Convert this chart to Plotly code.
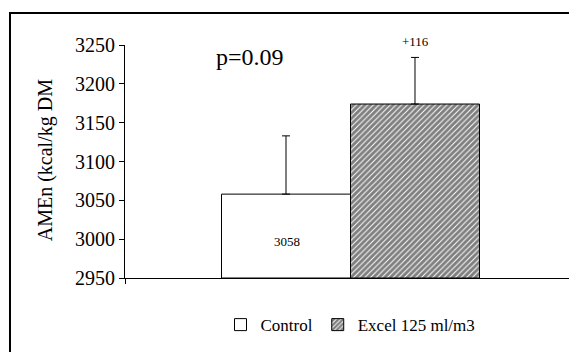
import plotly.graph_objects as go

series = ["Control", "Excel 125 ml/m3"]
values = [3058, 3174]
errors = [75, 60]
bar_labels = ["3058", "+116"]
y_ticks = [2950, 3000, 3050, 3100, 3150, 3200, 3250]
p_text = "p=0.09"
y_title = "AMEn (kcal/kg DM"

FONT = "Times New Roman"

fig = go.Figure()
fig.add_trace(go.Bar(
    name=series[0], x=[1], y=[values[0] - y_ticks[0]], base=y_ticks[0],
    marker=dict(color="white", line=dict(color="black", width=1)),
    error_y=dict(type="data", symmetric=False, array=[errors[0]], arrayminus=[0],
                 color="black", thickness=1, width=4),
))
fig.add_trace(go.Bar(
    name=series[1], x=[1], y=[values[1] - y_ticks[0]], base=y_ticks[0],
    marker=dict(color="white", line=dict(color="black", width=1),
                pattern=dict(shape="/", fgcolor="black", bgcolor="white", size=4, solidity=0.75)),
    error_y=dict(type="data", symmetric=False, array=[errors[1]], arrayminus=[0],
                 color="black", thickness=1, width=4),
))

annotations = [
    dict(x=1, y=2997, xref="x", yref="y", xshift=-64, text=bar_labels[0], showarrow=False,
         font=dict(family=FONT, size=13, color="black")),
    dict(x=1, y=values[1] + errors[1], xref="x", yref="y", xshift=65, yshift=16, text=bar_labels[1],
         showarrow=False, font=dict(family=FONT, size=13, color="black")),
    dict(x=0.277, y=0.948, xref="paper", yref="paper", text=p_text, showarrow=False,
         xanchor="center", yanchor="middle",
         font=dict(family=FONT, size=24, color="black")),
    dict(x=-0.177, y=0.506, xref="paper", yref="paper", text=y_title, showarrow=False, textangle=-90,
         xanchor="center", yanchor="middle",
         font=dict(family=FONT, size=20, color="black")),
]

fig.update_layout(
    width=569, height=344,
    margin=dict(l=117, r=1, t=37, b=74),
    paper_bgcolor="white", plot_bgcolor="white",
    barmode="group", bargap=0.428, bargroupgap=0,
    showlegend=True,
    legend=dict(orientation="h", x=0.5, xanchor="center", y=-0.202, yanchor="middle",
                font=dict(family=FONT, size=17, color="black"), itemwidth=30,
                bgcolor="rgba(0,0,0,0)", traceorder="normal"),
    font=dict(family=FONT, color="black"),
    annotations=annotations,
    shapes=[dict(type="rect", xref="paper", yref="paper", x0=-0.255, x1=1.1, y0=-0.6, y1=1.137,
                 line=dict(color="black", width=2), fillcolor="rgba(0,0,0,0)", layer="below")],
)
fig.update_xaxes(range=[0.5, 1.5], tickvals=[0.5, 1.5], ticktext=["", ""], ticks="outside",
                 ticklen=5, tickcolor="black", showline=True, linecolor="black", linewidth=1,
                 showgrid=False, zeroline=False, fixedrange=True)
fig.update_yaxes(range=[y_ticks[0], y_ticks[-1]], tickvals=y_ticks, ticks="outside", ticklen=5,
                 tickcolor="black", showline=True, linecolor="black", linewidth=1,
                 showgrid=False, zeroline=False, tickfont=dict(family=FONT, size=20, color="black"))

fig.write_html("out.html")
